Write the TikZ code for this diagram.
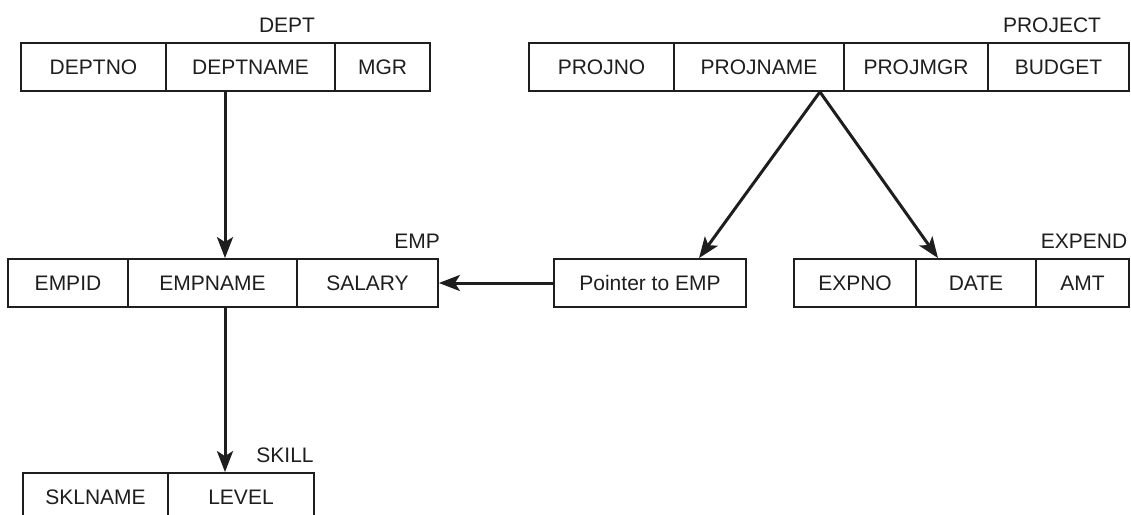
\documentclass[tikz,border=0pt]{standalone}
\usepackage{fontspec}
\setmainfont{Liberation Sans}
\usetikzlibrary{arrows.meta}
\definecolor{ink}{HTML}{1E1E1E}
\tikzset{
  cell/.style={draw=ink, line width=1.8pt, minimum height=48pt, inner sep=0pt, text=ink, font=\fontsize{21}{24}\selectfont},
  tlabel/.style={anchor=base, inner sep=0pt, text=ink, font=\fontsize{21}{24}\selectfont},
  arr/.style={draw=ink, line width=3pt, -{Stealth[length=21pt,width=16pt,inset=5pt]}}
}
\newcommand{\cellat}[5]{\node[cell, minimum width=#3-#2] (#1) at ({(#2+#3)/2},#4) {#5};}
\begin{document}
\begin{tikzpicture}[x=1pt,y=-1pt]
\useasboundingbox (0,0) rectangle (1131,514);
% DEPT
\cellat{d1}{21}{166}{67}{DEPTNO}
\cellat{d2}{166}{335}{67}{DEPTNAME}
\cellat{d3}{335}{430}{67}{MGR}
\node[tlabel] (dlab) at (287,32) {DEPT};
% PROJECT
\cellat{p1}{529}{674}{67}{PROJNO}
\cellat{p2}{674}{844}{67}{PROJNAME}
\cellat{p3}{844}{988}{67}{PROJMGR}
\cellat{p4}{988}{1129}{67}{BUDGET}
\node[tlabel] (plab) at (1052,32) {PROJECT};
% EMP
\cellat{e1}{8}{128}{283}{EMPID}
\cellat{e2}{128}{297}{283}{EMPNAME}
\cellat{e3}{297}{438}{283}{SALARY}
\node[tlabel] (elab) at (417,248) {EMP};
% Pointer
\cellat{ptr}{554}{746}{283}{Pointer to EMP}
% EXPEND
\cellat{x1}{794}{916}{283}{EXPNO}
\cellat{x2}{916}{1036}{283}{DATE}
\cellat{x3}{1036}{1129}{283}{AMT}
\node[tlabel] (xlab) at (1084,248) {EXPEND};
% SKILL
\cellat{s1}{23}{168}{497}{SKLNAME}
\cellat{s2}{168}{314}{497}{LEVEL}
\node[tlabel] (slab) at (285,462) {SKILL};
% connectors
\draw[arr] ([xshift=-25.5pt]d2.south) -- ([xshift=-25.5pt]d2.south |- e2.north);
\draw[arr] ([xshift=12.5pt]e2.south) -- ([xshift=12.5pt]e2.south |- s2.north);
\draw[arr] (ptr.west) -- (e3.east);
\draw[arr] ([xshift=-25pt]p2.south east) -- ([xshift=49pt]ptr.north);
\draw[arr] ([xshift=-25pt]p2.south east) -- ([xshift=-38pt]x2.north);
\end{tikzpicture}
\end{document}
